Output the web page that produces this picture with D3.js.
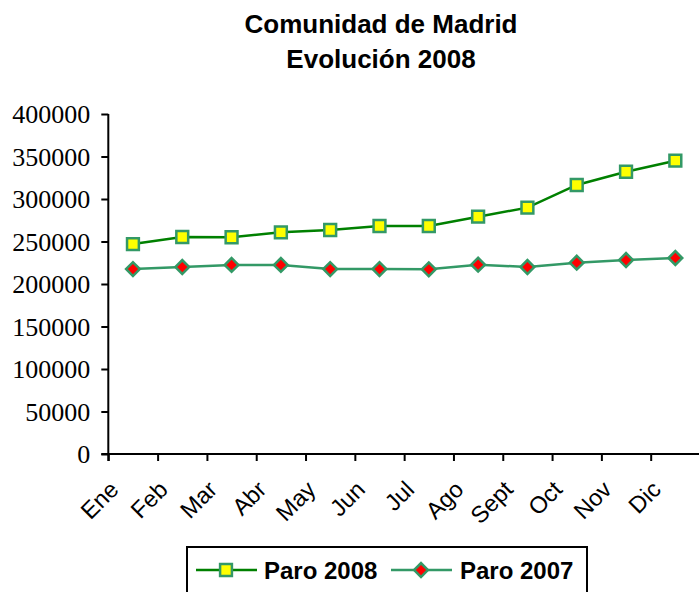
<!DOCTYPE html>
<html>
<head>
<meta charset="utf-8">
<script src="https://cdn.jsdelivr.net/npm/d3@7/dist/d3.min.js"></script>
<style>
  html, body { margin: 0; padding: 0; background: #fff; }
  svg { display: block; }
</style>
</head>
<body>
<svg id="chart" width="699" height="592"></svg>
<script>
// Monthly registered unemployment, Comunidad de Madrid
const months = ["Ene", "Feb", "Mar", "Abr", "May", "Jun", "Jul", "Ago", "Sept", "Oct", "Nov", "Dic"];
const paro2008 = [247000, 255300, 255000, 260800, 263500, 268200, 268200, 279200, 289800, 316500, 332100, 345100];
const paro2007 = [217600, 220000, 222400, 222400, 217600, 217600, 217300, 222700, 220000, 225100, 228200, 230600];
const yTicks = [0, 50000, 100000, 150000, 200000, 250000, 300000, 350000, 400000];
const titleLines = ["Comunidad de Madrid", "Evolución 2008"];
const seriesNames = ["Paro 2008", "Paro 2007"];

const svg = d3.select("#chart");
const W = 699, H = 592;
const plot = { left: 108.3, right: 700, top: 114, bottom: 454 };

const sans = "'Liberation Sans', Arial, sans-serif";
const serif = "'Liberation Serif', 'Times New Roman', serif";

const x = d3.scaleBand().domain(months).range([plot.left, plot.right]).padding(0);
const xEdges = d3.scaleLinear().domain([0, months.length]).range([plot.left, plot.right]);
const y = d3.scaleLinear().domain([0, 400000]).range([plot.bottom, plot.top]);
const cx = m => x(m) + x.bandwidth() / 2;

// Title
svg.append("g").selectAll("text").data(titleLines).join("text")
  .attr("x", 381)
  .attr("y", (d, i) => 33 + i * 35)
  .attr("text-anchor", "middle")
  .attr("font-family", sans)
  .attr("font-weight", "bold")
  .attr("font-size", 26)
  .attr("fill", "#000")
  .text(d => d);

// Y axis
const yAxis = svg.append("g")
  .attr("transform", `translate(${plot.left},0)`)
  .call(d3.axisLeft(y).tickValues(yTicks).tickFormat(d3.format("d")).tickSize(7).tickPadding(11));
yAxis.select(".domain").attr("d", `M0,${plot.top}V${plot.bottom + 7}`).attr("stroke", "#000").attr("stroke-width", 2);
yAxis.selectAll(".tick line").attr("stroke", "#000").attr("stroke-width", 2);
yAxis.selectAll(".tick text")
  .attr("font-family", serif)
  .attr("font-size", 26)
  .attr("fill", "#000")
  .attr("dy", "0.34em");

// X axis: tick marks on category boundaries
const xAxis = svg.append("g")
  .attr("transform", `translate(0,${plot.bottom})`)
  .call(d3.axisBottom(xEdges).tickValues(d3.range(0, months.length + 1)).tickFormat("").tickSize(7));
xAxis.select(".domain").attr("d", `M${plot.left - 7},0H${W}`).attr("stroke", "#000").attr("stroke-width", 2);
xAxis.selectAll(".tick line").attr("stroke", "#000").attr("stroke-width", 2);

// Rotated month labels
svg.append("g").selectAll("text").data(months).join("text")
  .attr("transform", d => `translate(${cx(d) - 13},${plot.bottom + 37}) rotate(-45)`)
  .attr("text-anchor", "end")
  .attr("font-family", sans)
  .attr("font-size", 23.5)
  .attr("fill", "#000")
  .text(d => d);

// Lines
const line = d3.line().x((d, i) => cx(months[i])).y(d => y(d));

svg.append("path").datum(paro2007)
  .attr("d", line).attr("fill", "none")
  .attr("stroke", "#339966").attr("stroke-width", 2.5);
svg.append("path").datum(paro2008)
  .attr("d", line).attr("fill", "none")
  .attr("stroke", "#008000").attr("stroke-width", 2.5);

// Markers
const squareSym = d3.symbol().type(d3.symbolSquare).size(140);
const diamondSym = d3.symbol().type(d3.symbolSquare).size(95);

svg.append("g").selectAll("path").data(paro2007).join("path")
  .attr("d", diamondSym)
  .attr("transform", (d, i) => `translate(${cx(months[i])},${y(d)}) rotate(45)`)
  .attr("fill", "#ff0000").attr("stroke", "#339966").attr("stroke-width", 2.5);

svg.append("g").selectAll("path").data(paro2008).join("path")
  .attr("d", squareSym)
  .attr("transform", (d, i) => `translate(${cx(months[i])},${y(d)})`)
  .attr("fill", "#ffff00").attr("stroke", "#339966").attr("stroke-width", 2.5);

// Legend
const legend = svg.append("g");
legend.append("rect")
  .attr("x", 187).attr("y", 547).attr("width", 400).attr("height", 60)
  .attr("fill", "#fff").attr("stroke", "#000").attr("stroke-width", 2);

const legItems = [
  { name: seriesNames[0], x0: 196, color: "#008000", sym: squareSym, fill: "#ffff00", rot: 0, tx: 264 },
  { name: seriesNames[1], x0: 391, color: "#339966", sym: diamondSym, fill: "#ff0000", rot: 45, tx: 460 }
];
const ly = 570;
legItems.forEach(it => {
  legend.append("line").attr("x1", it.x0).attr("x2", it.x0 + 61).attr("y1", ly).attr("y2", ly)
    .attr("stroke", it.color).attr("stroke-width", 2.5);
  legend.append("path").attr("d", it.sym)
    .attr("transform", `translate(${it.x0 + 30},${ly}) rotate(${it.rot})`)
    .attr("fill", it.fill).attr("stroke", "#339966").attr("stroke-width", 2.5);
  legend.append("text").attr("x", it.tx).attr("y", ly + 8.5)
    .attr("font-family", sans).attr("font-weight", "bold").attr("font-size", 24)
    .attr("fill", "#000").text(it.name);
});
</script>
</body>
</html>
